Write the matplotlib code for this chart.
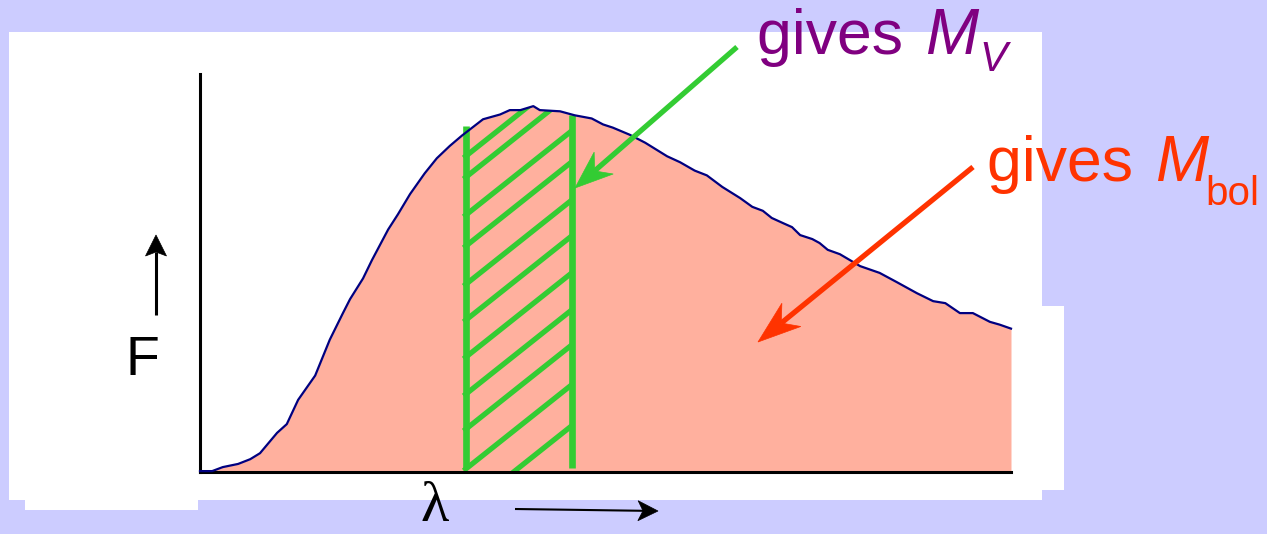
import numpy as np
import matplotlib
matplotlib.use("Agg")
import matplotlib.pyplot as plt
from matplotlib.patches import Rectangle, Polygon

W, H, DPI = 1267, 534, 100

# ---- data: spectrum (normalised wavelength 0-100, normalised flux 0-100) ----
wavelength = [0, 1.5, 2.8, 4.7, 6.2, 7.4, 9.5, 10.7, 12.1, 14.2, 16.0, 17.6, 18.5,
              20.1, 21.2, 23.2, 24.4, 25.9, 27.7, 29.2, 30.8, 32.3, 34.9, 37.0,
              38.2, 39.5, 41.1, 41.9, 44.4, 46.2, 48.3, 49.7, 50.9, 53.0, 54.9,
              57.6, 59.2, 61.0, 62.5, 64.4, 66.6, 68.1, 69.4, 70.5, 71.9, 73.0,
              74.0, 75.5, 76.4, 77.4, 78.9, 81.4, 83.8, 85.9, 88.4, 90.4, 91.9,
              93.7, 95.3, 97.4, 98.6, 100]
flux = [0.1, 0.1, 1.1, 1.9, 3.1, 4.6, 9.7, 11.9, 18.0, 24.1, 33.1, 39.7, 43.3,
        48.5, 53.1, 60.8, 64.6, 69.7, 74.9, 78.7, 81.8, 84.4, 88.5, 89.7,
        90.8, 90.8, 91.8, 90.8, 90.5, 89.5, 88.7, 87.2, 86.4, 84.6, 82.6,
        79.2, 77.7, 75.6, 74.4, 71.5, 68.7, 66.5, 65.5, 63.7, 62.4, 61.4,
        59.4, 58.4, 57.4, 55.7, 54.6, 51.6, 49.9, 47.6, 44.8, 42.8, 42.3,
        39.8, 39.8, 37.6, 36.9, 35.9]

# V band edges (wavelength units) and the top of each band edge line
v_band = [32.8, 45.9]
v_band_top = [86.8, 89.6]
# hatch lines: flux where each crosses the red edge of the band
hatch_right = [11.6, 21.9, 31.9, 40.7, 50.0, 59.3, 68.3, 77.9, 85.7, 95.2, 100.5]
hatch_slope = 1.62

labels_v = ("gives ", "M", "V")
labels_bol = ("gives ", "M", "bol")

BG = "#CCCCFF"
FILL = "#FFB09E"
CURVE = "#000080"
GREEN = "#33CC33"
RED = "#FF3300"
PURPLE = "#800080"

fig = plt.figure(figsize=(W / DPI, H / DPI), dpi=DPI, facecolor=BG)

# background layer in pixel coordinates
bg = fig.add_axes([0, 0, 1, 1], zorder=0)
bg.set_xlim(0, W)
bg.set_ylim(H, 0)
bg.axis("off")
for (x0, y0, x1, y1) in [(9, 32, 1042, 500), (25, 499, 198, 510), (1041, 306, 1064, 490)]:
    bg.add_patch(Rectangle((x0, y0), x1 - x0, y1 - y0, facecolor="white", edgecolor="none"))

# data axes
ax_l, ax_r, ax_t, ax_b = 200, 1011, 73.5, 471.5
ax = fig.add_axes([ax_l / W, 1 - ax_b / H, (ax_r - ax_l) / W, (ax_b - ax_t) / H], zorder=1)
ax.set_facecolor("none")
ax.set_xlim(0, 100)
ax.set_ylim(0, 100)
ax.set_xticks([])
ax.set_yticks([])
for s in ("top", "right"):
    ax.spines[s].set_visible(False)
for s in ("left", "bottom"):
    ax.spines[s].set_linewidth(2.2)
    ax.spines[s].set_color("black")
    ax.spines[s].set_zorder(2.5)

x = np.array(wavelength)
y = np.array(flux)
ax.fill_between(x, 0, y, color=FILL, lw=0, zorder=1)

# clip region: under the curve
clip = Polygon(np.column_stack([np.r_[x, x[-1], x[0]], np.r_[y, -1, -1]]),
               closed=True, facecolor="none", edgecolor="none", transform=ax.transData)
ax.add_patch(clip)

xl, xr = v_band
xs = np.array([xl - 0.3, xr])
for yr in hatch_right:
    ys = yr - hatch_slope * (xr - xs)
    ln, = ax.plot(xs, ys, color=GREEN, lw=3.8, solid_capstyle="butt", zorder=2)
    ln.set_clip_path(clip)
for xe, yt in zip(v_band, v_band_top):
    ax.plot([xe, xe], [0.9, yt], color=GREEN, lw=4.8, solid_capstyle="butt", zorder=2.2)

ax.plot(x, y, color=CURVE, lw=1.6, zorder=3, clip_on=False)

# overlay layer for annotations (pixel coordinates)
ov = fig.add_axes([0, 0, 1, 1], zorder=3)
ov.set_facecolor("none")
ov.set_xlim(0, W)
ov.set_ylim(H, 0)
ov.axis("off")


def arrow(x0, y0, x1, y1, color, lw, hl, hw, notch):
    d = np.array([x1 - x0, y1 - y0], float)
    u = d / np.hypot(*d)
    n = np.array([-u[1], u[0]])
    tip = np.array([x1, y1], float)
    base = tip - u * hl
    nt = tip - u * notch
    ov.plot([x0, nt[0]], [y0, nt[1]], color=color, lw=lw, solid_capstyle="butt")
    ov.add_patch(Polygon([tip, base + n * hw, nt, base - n * hw], closed=True,
                         facecolor=color, edgecolor=color, lw=0.5))


arrow(737, 47, 575, 188, GREEN, 3.8, 38, 14.5, 26)
arrow(973, 167, 758, 342, RED, 3.8, 43, 15, 30)
arrow(156, 315, 156, 235, "black", 2.2, 21, 10.5, 17)
arrow(515, 509, 658, 511, "black", 1.5, 20, 10, 15)

sans = "Liberation Sans"
ov.text(125, 375, "F", fontsize=40, family=sans, color="black", va="baseline", ha="left")
ov.text(420, 533, "λ", fontsize=42, family="Liberation Serif", color="black", va="bottom", ha="left")

ov.text(757, 54, labels_v[0], fontsize=45, family=sans, color=PURPLE, va="baseline")
ov.text(925, 54, labels_v[1], fontsize=46, family=sans, style="italic", color=PURPLE, va="baseline")
ov.text(979, 71, labels_v[2], fontsize=30, family=sans, style="italic", color=PURPLE, va="baseline")

ov.text(987, 181, labels_bol[0], fontsize=45, family=sans, color=RED, va="baseline")
ov.text(1155, 181, labels_bol[1], fontsize=46, family=sans, style="italic", color=RED, va="baseline")
ov.text(1205, 205, labels_bol[2], fontsize=29, family=sans, color=RED, va="baseline")

fig.savefig("out.png", dpi=DPI, facecolor=BG)
